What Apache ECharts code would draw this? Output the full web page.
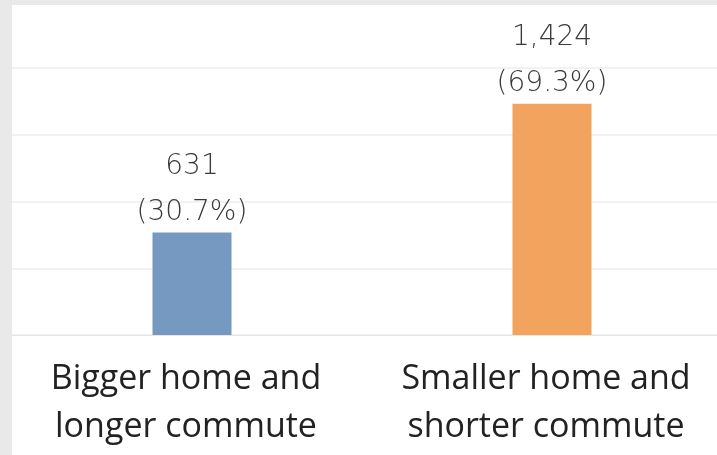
<!DOCTYPE html>
<html>
<head>
<meta charset="utf-8">
<script src="https://cdn.jsdelivr.net/npm/echarts@6/dist/echarts.min.js"></script>
<style>
  html, body { margin: 0; padding: 0; background: #e9e9e9; overflow: hidden; }
  #chart { position: absolute; left: 12px; top: 5px; width: 705px; height: 450px; background: #fff; }
</style>
</head>
<body>
<div id="chart"></div>
<script>
const categories = ['Bigger home and\nlonger commute', 'Smaller home and\nshorter commute'];
const counts = [631, 1424];
const shares = [30.7, 69.3];
const barColors = ['#7599c0', '#f2a35e'];

const chart = echarts.init(document.getElementById('chart'), null, { renderer: 'canvas' });

chart.setOption({
  animation: false,
  grid: { left: 0, width: 720, top: 63, bottom: 120, outerBoundsMode: 'none', containLabel: false },
  xAxis: {
    type: 'category',
    data: categories,
    axisLine: { show: true, lineStyle: { color: '#e6e6e6', width: 1 } },
    axisTick: { show: false },
    axisLabel: {
      interval: 0,
      margin: 20,
      padding: [0, 12, 0, 0],
      fontFamily: 'Open Sans',
      fontSize: 34,
      lineHeight: 48,
      color: '#222'
    }
  },
  yAxis: {
    type: 'value',
    min: 0,
    max: 80,
    interval: 20,
    axisLine: { show: false },
    axisTick: { show: false },
    axisLabel: { show: false },
    splitLine: { lineStyle: { color: '#f2f2f2', width: 2 } }
  },
  series: [{
    type: 'bar',
    barWidth: 79,
    data: shares.map((s, i) => ({ value: s, itemStyle: { color: barColors[i] } })),
    label: {
      show: true,
      position: 'top',
      distance: -3,
      formatter: (p) => counts[p.dataIndex].toLocaleString('en-US') + '\n(' + shares[p.dataIndex].toFixed(1) + '%)',
      fontFamily: 'DejaVu Sans',
      fontWeight: 200,
      fontSize: 28,
      lineHeight: 46,
      color: '#3a3a3a'
    }
  }]
});
</script>
</body>
</html>
